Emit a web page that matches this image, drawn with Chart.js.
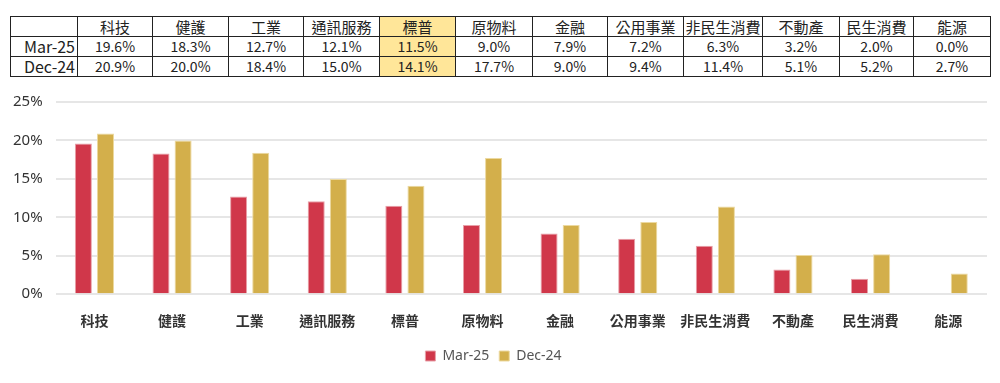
<!DOCTYPE html>
<html>
<head>
<meta charset="utf-8">
<script src="https://cdn.jsdelivr.net/npm/chart.js@4"></script>
<style>
  body { margin: 0; background: #fff; font-family: "Noto Sans CJK TC", "Noto Sans", sans-serif; }
  #tbl { position: absolute; left: 10px; top: 16px; border-collapse: collapse; table-layout: fixed; }
  #tbl td { border: 1.5px solid #222; height: 19px; padding: 0; text-align: center; font-size: 14px; color: #222; line-height: 19px; }
  #tbl td.lbl { font-size: 16px; text-align: right; padding-right: 2px; }
  #tbl td.hi { background: #ffe699; }
  #wrap { position: absolute; left: 0; top: 80px; width: 1000px; height: 303px; }
</style>
</head>
<body>
<table id="tbl"></table>
<div id="wrap"><canvas id="myChart"></canvas></div>
<script>
const categories = ['科技','健護','工業','通訊服務','標普','原物料','金融','公用事業','非民生消費','不動產','民生消費','能源'];
const mar25 = [19.6, 18.3, 12.7, 12.1, 11.5, 9.0, 7.9, 7.2, 6.3, 3.2, 2.0, 0.0];
const dec24 = [20.9, 20.0, 18.4, 15.0, 14.1, 17.7, 9.0, 9.4, 11.4, 5.1, 5.2, 2.7];
const seriesNames = ['Mar-25', 'Dec-24'];
const yTicks = [0, 5, 10, 15, 20, 25];

// table on top
const colW = [67, 75, 76, 75, 76, 76, 77, 75, 76, 79, 77, 74, 77];
const tbl = document.getElementById('tbl');
const cg = document.createElement('colgroup');
colW.forEach(w => { const c = document.createElement('col'); c.style.width = w + 'px'; cg.appendChild(c); });
tbl.appendChild(cg);
function addRow(label, cells, isHead){
  const tr = document.createElement('tr');
  const first = document.createElement('td');
  first.className = 'lbl';
  first.textContent = label;
  tr.appendChild(first);
  cells.forEach((v, i) => {
    const td = document.createElement('td');
    td.textContent = isHead ? v : v.toFixed(1) + '%';
    if (isHead) td.style.fontSize = '15px';
    if (categories[i] === '標普') td.className = 'hi';
    tr.appendChild(td);
  });
  tbl.appendChild(tr);
}
addRow('', categories, true);
addRow(seriesNames[0], mar25);
addRow(seriesNames[1], dec24);

const ctx = document.getElementById('myChart');
new Chart(ctx, {
  type: 'bar',
  data: {
    labels: categories,
    datasets: [{
      label: seriesNames[0],
      data: mar25,
      backgroundColor: '#d0374a',
      borderColor: '#e8a0a8',
      borderWidth: 1
    }, {
      label: seriesNames[1],
      data: dec24,
      backgroundColor: '#d3af4b',
      borderColor: '#ecd9a0',
      borderWidth: 1
    }]
  },
  options: {
    responsive: true,
    maintainAspectRatio: false,
    animation: false,
    datasets: { bar: { categoryPercentage: 0.57, barPercentage: 0.77 } },
    layout: { padding: { left: 0, right: 13, top: 2, bottom: 10 } },
    plugins: {
      legend: {
        position: 'bottom',
        labels: { boxWidth: 10, boxHeight: 10, color: '#555', font: { size: 14, family: 'Noto Sans' }, padding: 10 }
      },
      tooltip: { enabled: false }
    },
    scales: {
      x: {
        grid: { display: false },
        border: { display: false },
        ticks: { color: '#333', font: { size: 14, weight: 'bold', family: '"Noto Sans CJK TC"' }, padding: 10, maxRotation: 0 }
      },
      y: {
        min: 0, max: 25,
        afterBuildTicks: axis => { axis.ticks = yTicks.map(v => ({ value: v })); },
        grid: { color: '#e6e6e6', lineWidth: 2, drawTicks: false },
        border: { display: false },
        ticks: { color: '#333', font: { size: 15, family: 'Noto Sans' }, padding: 13, callback: v => v + '%' }
      }
    }
  }
});
</script>
</body>
</html>
